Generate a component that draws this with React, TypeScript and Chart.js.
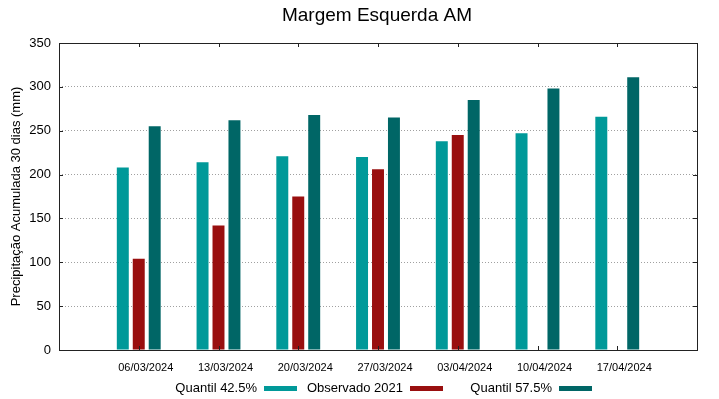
import React, { useEffect, useRef } from "react";
import { Chart, registerables } from "chart.js";

Chart.register(...registerables);

const categories = ["06/03/2024", "13/03/2024", "20/03/2024", "27/03/2024", "03/04/2024", "10/04/2024", "17/04/2024"];
const quantil425 = [208, 214, 221, 220, 238, 247, 266];
const observado2021: (number | null)[] = [104, 142, 175, 206, 245, null, null];
const quantil575 = [255, 262, 268, 265, 285, 298, 311];
const seriesLabels = ["Quantil 42.5%", "Observado 2021", "Quantil 57.5%"];
const seriesColors = ["#009999", "#990f0f", "#006666"];
const yTicks = [0, 50, 100, 150, 200, 250, 300, 350];

const FONT = "'Liberation Sans', Arial, sans-serif";

const toPoints = (arr: (number | null)[]) => arr.map((v, i) => ({ x: i, y: v }));

const framePlugin = {
  id: "frame",
  afterDraw(chart: any) {
    const { ctx, chartArea } = chart;
    const { left, right, top, bottom } = chartArea;
    const xs = chart.scales.x;
    const ys = chart.scales.y;
    ctx.save();
    ctx.strokeStyle = "#222";
    ctx.lineWidth = 1;
    ctx.strokeRect(Math.round(left) + 0.5, Math.round(top) + 0.5, Math.round(right - left), Math.round(bottom - top));
    // inward ticks
    ctx.beginPath();
    yTicks.forEach((v) => {
      const y = Math.round(ys.getPixelForValue(v)) + 0.5;
      ctx.moveTo(left, y);
      ctx.lineTo(left + 4, y);
      ctx.moveTo(right, y);
      ctx.lineTo(right - 4, y);
    });
    categories.forEach((_, i) => {
      const x = Math.round(xs.getPixelForValue(i)) + 0.5;
      ctx.moveTo(x, bottom);
      ctx.lineTo(x, bottom - 4);
      ctx.moveTo(x, top);
      ctx.lineTo(x, top + 4);
    });
    ctx.stroke();

    // title
    ctx.fillStyle = "#000";
    ctx.font = `19px ${FONT}`;
    ctx.textAlign = "center";
    ctx.textBaseline = "middle";
    ctx.fillText("Margem Esquerda AM", 377, 16);

    // legend
    ctx.font = `13px ${FONT}`;
    ctx.textAlign = "right";
    const textEnds = [257, 403, 552];
    chart.data.datasets.forEach((ds: any, i: number) => {
      const xe = textEnds[i];
      ctx.fillStyle = "#000";
      ctx.fillText(ds.label, xe, 388);
      ctx.fillStyle = ds.backgroundColor;
      ctx.fillRect(xe + 7, 386, 33, 5);
    });
    ctx.restore();
  },
};

export default function App() {
  const ref = useRef<HTMLCanvasElement | null>(null);
  useEffect(() => {
    if (!ref.current) return;
    const series = [quantil425, observado2021, quantil575];
    const chart = new Chart(ref.current, {
      type: "bar",
      data: {
        datasets: series.map((s, i) => ({
          label: seriesLabels[i],
          data: toPoints(s) as any,
          backgroundColor: seriesColors[i],
          borderWidth: 0,
          categoryPercentage: 0.6,
          barPercentage: 0.75,
        })),
      },
      options: {
        animation: false,
        responsive: false,
        devicePixelRatio: 1,
        layout: { padding: { left: 0, right: 22, top: 43, bottom: 0 } },
        plugins: { legend: { display: false }, tooltip: { enabled: false }, title: { display: false } },
        scales: {
          x: {
            type: "linear",
            offset: false,
            min: -1,
            max: 7,
            grid: { display: false, drawTicks: false, offset: false },
            border: { display: false },
            ticks: {
              stepSize: 1,
              autoSkip: false,
              maxRotation: 0,
              padding: 11,
              labelOffset: 7,
              color: "#000",
              font: { family: FONT, size: 11 },
              callback: (v: any) => (Number.isInteger(v) && v >= 0 && v < categories.length ? categories[v] : ""),
            },
            afterFit: (scale: any) => {
              scale.height = 49;
            },
          },
          y: {
            min: 0,
            max: 350,
            grid: {
              drawTicks: false,
              color: "#a0a0a0",
              lineWidth: 1,
            },
            border: { display: false, dash: [1, 2] },
            ticks: {
              stepSize: 50,
              padding: 8,
              color: "#000",
              font: { family: FONT, size: 13 },
            },
            title: {
              display: true,
              text: "Precipitação Acumulada 30 dias (mm)",
              color: "#000",
              font: { family: FONT, size: 13 },
              padding: { top: 9, bottom: 0 },
            },
            afterFit: (scale: any) => {
              scale.width = 59;
            },
          },
        },
      },
      plugins: [framePlugin],
    });
    return () => chart.destroy();
  }, []);
  return (
    <div style={{ position: "absolute", left: 0, top: 0, width: 719, height: 399, background: "#fff" }}>
      <canvas ref={ref} width={719} height={399} style={{ width: 719, height: 399, display: "block" }} />
    </div>
  );
}
